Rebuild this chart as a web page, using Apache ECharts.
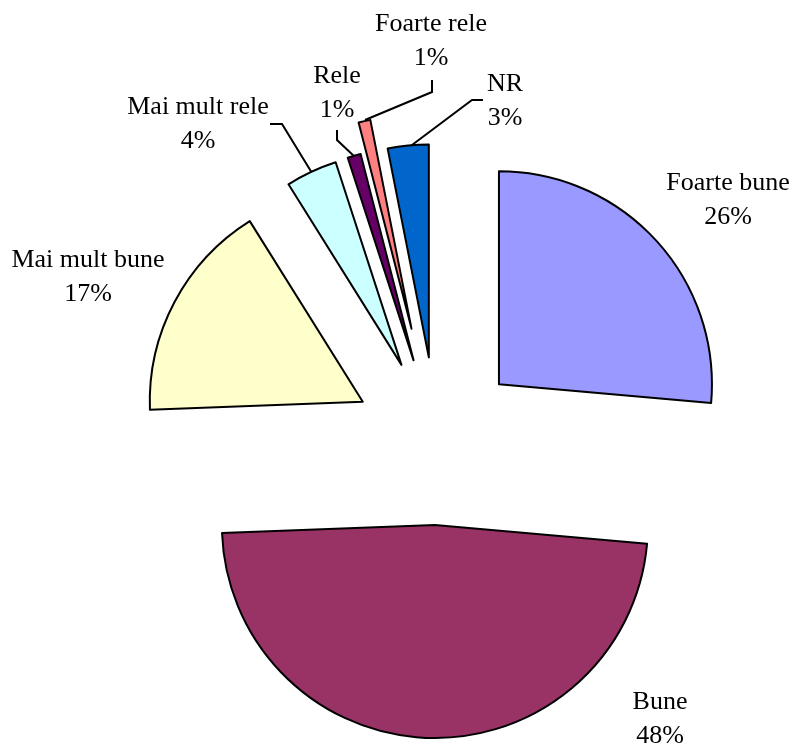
<!DOCTYPE html>
<html>
<head>
<meta charset="utf-8">
<script src="https://cdn.jsdelivr.net/npm/echarts@6/dist/echarts.min.js"></script>
<style>
    html, body { margin: 0; padding: 0; background: #fff; }
    #chart { width: 795px; height: 747px; }
</style>
</head>
<body>
<div id="chart"></div>
<script>
const categories = ['Foarte bune', 'Bune', 'Mai mult bune', 'Mai mult rele', 'Rele', 'Foarte rele', 'NR'];
const shares = [26.4, 48.0, 16.7, 3.9, 1.0, 0.9, 3.1];
const colors = ['#9999FF', '#993366', '#FFFFCC', '#CCFFFF', '#660066', '#FF8080', '#0066CC'];
// this slice is pulled out further than the others
const farOut = 'Foarte rele';

// label block centres and leader lines, as placed in the original
const labelSpots = {
    'Foarte bune': { x: 728, y: 200 },
    'Bune': { x: 660, y: 719 },
    'Mai mult bune': { x: 88, y: 277 },
    'Mai mult rele': { x: 198, y: 124, line: [[312, 173], [282, 124], [270, 124]] },
    'Rele': { x: 337, y: 93, line: [[355, 157], [337, 140], [337, 130]] },
    'Foarte rele': { x: 431, y: 41, line: [[365, 120], [432, 92], [432, 80]] },
    'NR': { x: 505, y: 101, line: [[408, 148], [472, 100], [483, 100]] }
};

const clear = { color: 'rgba(0,0,0,0)', borderWidth: 0 };
const edge = { borderColor: '#000', borderWidth: 2 };

const common = {
    type: 'pie',
    center: [437, 441],
    radius: [0, 213],
    startAngle: 90,
    clockwise: true,
    silent: true,
    percentPrecision: 0,
    avoidLabelOverlap: false
};

// exploded slices, no labels
const sliceLayer = (offset, onlyFar) => Object.assign({}, common, {
    selectedMode: 'multiple',
    selectedOffset: offset,
    label: { show: false },
    labelLine: { show: false },
    data: categories.map((name, i) => {
        const shown = (name === farOut) === onlyFar;
        const style = shown ? Object.assign({ color: colors[i] }, edge) : clear;
        return {
            name: name,
            value: shares[i],
            selected: true,
            itemStyle: style,
            select: { itemStyle: style }
        };
    })
});

// labels only, slices invisible
const labelLayer = Object.assign({}, common, {
    itemStyle: clear,
    label: {
        show: true,
        position: 'outside',
        formatter: '{b}\n{d}%',
        fontFamily: 'Liberation Serif',
        fontSize: 26,
        lineHeight: 34,
        color: '#000'
    },
    labelLine: { show: true, lineStyle: { color: '#000', width: 2 } },
    labelLayout: (params) => {
        const spot = labelSpots[categories[params.dataIndex]];
        const out = { x: spot.x, y: spot.y, align: 'center', verticalAlign: 'middle' };
        if (spot.line) out.labelLinePoints = spot.line;
        return out;
    },
    data: categories.map((name, i) => ({
        name: name,
        value: shares[i],
        labelLine: { show: !!labelSpots[name].line }
    }))
});

const chart = echarts.init(document.getElementById('chart'));
chart.setOption({
    animation: false,
    backgroundColor: '#fff',
    series: [sliceLayer(84, false), sliceLayer(115, true), labelLayer]
});
</script>
</body>
</html>
